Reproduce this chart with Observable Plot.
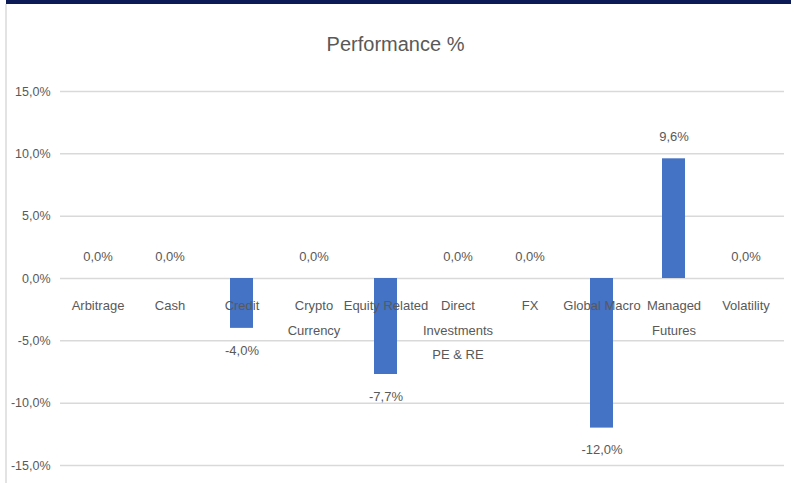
<!DOCTYPE html>
<html>
<head>
<meta charset="utf-8">
<script src="https://cdn.jsdelivr.net/npm/d3@7"></script>
<script src="https://cdn.jsdelivr.net/npm/@observablehq/plot@0.6"></script>
<style>
  html, body { margin: 0; padding: 0; background: #ffffff; }
  #wrap { position: relative; width: 791px; height: 483px; overflow: hidden; background: #fff; }
  #topbar { position: absolute; left: 6px; top: 0; width: 785px; height: 4px; background: #0c1a55; }
  #leftborder { position: absolute; left: 5px; top: 4px; width: 2px; height: 479px; background: #e3e3e3; }
  #title { position: absolute; left: 0; width: 791px; top: 30px; text-align: center;
           font-family: "Liberation Sans", sans-serif;
           font-size: 20px; color: #595959; line-height: 28px; }
  #chart { position: absolute; left: 0; top: 0; }
</style>
</head>
<body>
<div id="wrap">
  <div id="topbar"></div>
  <div id="leftborder"></div>
  <div id="chart"></div>
  <div id="title">Performance %</div>
</div>
<script>
const categories = ["Arbitrage", "Cash", "Credit", "Crypto\nCurrency", "Equity Related",
  "Direct\nInvestments\nPE & RE", "FX", "Global Macro", "Managed\nFutures", "Volatility"];
const performance = [0.0, 0.0, -4.0, 0.0, -7.7, 0.0, 0.0, -12.0, 9.6, 0.0];
const yTicks = [-15, -10, -5, 0, 5, 10, 15];

const data = categories.map((c, i) => ({category: c, value: performance[i]}));
const fmt = v => v.toFixed(1).replace(".", ",") + "%";
const font = "'Liberation Sans', sans-serif";

const chart = Plot.plot({
  width: 791,
  height: 483,
  marginTop: 91,
  marginBottom: 18,
  marginLeft: 60,
  marginRight: 7,
  style: {fontFamily: font, fontSize: "13px", color: "#595959", background: "transparent"},
  x: {domain: categories, paddingInner: 0.68, paddingOuter: 0.34, axis: null},
  y: {domain: [-15, 15], axis: null},
  marks: [
    Plot.ruleY(yTicks, {stroke: "#d9d9d9", strokeWidth: 1.5}),
    Plot.axisY({ticks: yTicks, tickSize: 0, tickPadding: 10, tickFormat: fmt, label: null,
      fontSize: 12.5, fill: "#595959"}),
    Plot.barY(data, {x: "category", y: "value", fill: "#4472c4"}),
    Plot.text(data, {x: "category", y: 0, text: "category", lineAnchor: "top", dy: 14,
      lineHeight: 1.9, fill: "#595959", fontSize: 13}),
    Plot.text(data.filter(d => d.value >= 0), {x: "category", y: "value", text: d => fmt(d.value),
      dy: -22, fill: "#595959", fontSize: 13}),
    Plot.text(data.filter(d => d.value < 0), {x: "category", y: "value", text: d => fmt(d.value),
      dy: 22, fill: "#595959", fontSize: 13})
  ]
});
document.getElementById("chart").appendChild(chart);
</script>
</body>
</html>
